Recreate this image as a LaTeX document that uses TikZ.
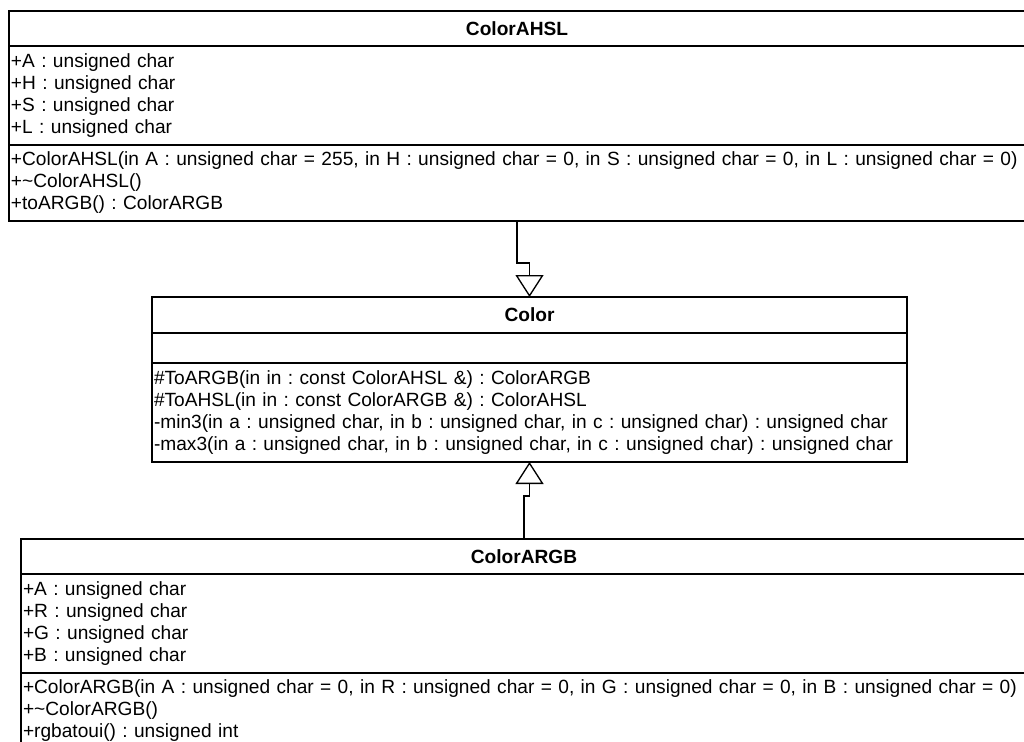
\documentclass[tikz,border=0pt]{standalone}
\usepackage{fontspec}
\setmainfont{Liberation Sans}
\usetikzlibrary{arrows.meta,positioning}

\begin{document}
\begin{tikzpicture}[x=0.75pt, y=-0.75pt,
    classpart/.style={draw, line width=1pt, outer sep=0pt, inner xsep=1.5pt, inner ysep=0pt,
        text width=#1, align=left, font=\fontsize{14.35}{16.5}\selectfont\frenchspacing},
    classname/.style={classpart=#1, align=center, font=\fontsize{14.35}{16.5}\selectfont\bfseries},
    inherits/.style={draw, line width=1pt, -{Triangle[open, length=16.5pt, width=21pt]}}]
    \useasboundingbox (0,0) rectangle (1024,742);

    % ColorAHSL
    \node[classname=759pt, minimum height=26.25pt, anchor=north] (ahsl) at (517,11) {ColorAHSL};
    \node[classpart=759pt, minimum height=74.25pt, below=0pt of ahsl] (ahslattr)
        {+A : unsigned char\\+H : unsigned char\\+S : unsigned char\\+L : unsigned char};
    \node[classpart=759pt, minimum height=57pt, below=0pt of ahslattr] (ahslops)
        {+ColorAHSL(in A : unsigned char = 255, in H : unsigned char = 0, in S : unsigned char = 0, in L : unsigned char = 0)\\
         +\textasciitilde ColorAHSL()\\+toARGB() : ColorARGB};

    % Color
    \node[classname=563.25pt, minimum height=27pt, anchor=north] (color) at (529.5,297) {Color};
    \node[classpart=563.25pt, minimum height=22.5pt, below=0pt of color] (colorattr) {};
    \node[classpart=563.25pt, minimum height=74.25pt, below=0pt of colorattr] (colorops)
        {\#ToARGB(in in : const ColorAHSL \&) : ColorARGB\\
         \#ToAHSL(in in : const ColorARGB \&) : ColorAHSL\\
         -min3(in a : unsigned char, in b : unsigned char, in c : unsigned char) : unsigned char\\
         -max3(in a : unsigned char, in b : unsigned char, in c : unsigned char) : unsigned char};

    % ColorARGB
    \node[classname=751.5pt, minimum height=26.25pt, anchor=north] (argb) at (524,539) {ColorARGB};
    \node[classpart=751.5pt, minimum height=74.25pt, below=0pt of argb] (argbattr)
        {+A : unsigned char\\+R : unsigned char\\+G : unsigned char\\+B : unsigned char};
    \node[classpart=751.5pt, minimum height=57pt, below=0pt of argbattr] (argbops)
        {+ColorARGB(in A : unsigned char = 0, in R : unsigned char = 0, in G : unsigned char = 0, in B : unsigned char = 0)\\
         +\textasciitilde ColorARGB()\\+rgbatoui() : unsigned int};

    % generalizations
    \draw[inherits] (ahslops.south) -- ++(0,42) -| (color.north);
    \draw[inherits] (argb.north) -- ++(0,-43) -| (colorops.south);
\end{tikzpicture}
\end{document}
